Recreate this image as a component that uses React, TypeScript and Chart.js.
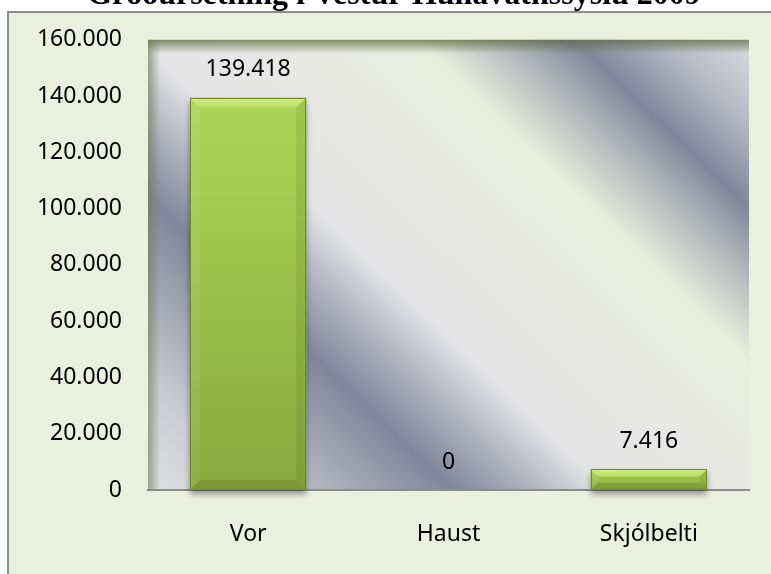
import { useEffect, useRef } from 'react';
import { Chart, registerables } from 'chart.js';

Chart.register(...registerables);

const TITLE = 'Gróðursetning í Vestur-Húnavatnssýslu 2009';
const categories = ['Vor', 'Haust', 'Skjólbelti'];
const values = [139418, 0, 7416];
const yMin = 0;
const yMax = 160000;
const yStep = 20000;

const FONT = '"Noto Sans", "Open Sans", sans-serif';

const fmt = (n: number) => String(Math.round(n)).replace(/\B(?=(\d{3})+(?!\d))/g, '.');

const framePlugin = {
  id: 'frame',
  beforeDraw(chart: any) {
    const ctx = chart.ctx as CanvasRenderingContext2D;
    const W = chart.width;
    const H = chart.height;
    ctx.save();
    ctx.fillStyle = '#ffffff';
    ctx.fillRect(0, 0, W, H);
    ctx.fillStyle = '#ebefde';
    ctx.fillRect(7, 11, W, H);
    ctx.fillStyle = '#8c8c8c';
    ctx.fillRect(7, 11, W - 7, 2);
    ctx.fillRect(7, 11, 2, H - 11);

    const { left, top, right, bottom } = chart.chartArea;
    const L = 740;
    const g = ctx.createLinearGradient(left, bottom, left + 0.69 * L, bottom - 0.72 * L);
    const stops: [number, string][] = [
      [0, '#dfe0e2'],
      [0.108, '#c9cbd1'],
      [0.203, '#a2a6b3'],
      [0.286, '#80869a'],
      [0.354, '#abaebb'],
      [0.432, '#e4e4e6'],
      [0.568, '#e8e9e3'],
      [0.69, '#e9eedc'],
      [0.77, '#b5b9bd'],
      [0.84, '#80869a'],
      [0.925, '#b8bbc5'],
      [1, '#d8d9de'],
    ];
    stops.forEach(([o, c]) => g.addColorStop(o, c));
    ctx.fillStyle = g;
    ctx.fillRect(left, top, right - left, bottom - top);

    // inner shadows
    const gt = ctx.createLinearGradient(0, top, 0, top + 14);
    gt.addColorStop(0, 'rgba(95,105,65,0.75)');
    gt.addColorStop(1, 'rgba(95,105,65,0)');
    ctx.fillStyle = gt;
    ctx.fillRect(left, top, right - left, 14);
    const gl = ctx.createLinearGradient(left, 0, left + 12, 0);
    gl.addColorStop(0, 'rgba(110,120,80,0.6)');
    gl.addColorStop(1, 'rgba(110,120,80,0)');
    ctx.fillStyle = gl;
    ctx.fillRect(left, top, 12, bottom - top);

    // title (mostly cut off at the top)
    ctx.fillStyle = '#000';
    ctx.font = 'bold 32px "Liberation Serif", "Times New Roman", serif';
    ctx.textAlign = 'center';
    ctx.textBaseline = 'alphabetic';
    ctx.fillText(TITLE, 394, 4);
    ctx.restore();
  },
};

const barPlugin = {
  id: 'barStyle',
  beforeDatasetsDraw(chart: any) {
    const ctx = chart.ctx as CanvasRenderingContext2D;
    ctx.save();
    ctx.shadowColor = 'rgba(0,0,0,0.4)';
    ctx.shadowBlur = 6;
    ctx.shadowOffsetX = 0;
    ctx.shadowOffsetY = 4;
  },
  afterDatasetsDraw(chart: any) {
    const ctx = chart.ctx as CanvasRenderingContext2D;
    ctx.restore();
    const meta = chart.getDatasetMeta(0);
    const ds = chart.data.datasets[0];
    meta.data.forEach((el: any, i: number) => {
      const { x, y, base, width } = el.getProps(['x', 'y', 'base', 'width'], true);
      const x0 = x - width / 2;
      const x1 = x + width / 2;
      const yt = Math.min(y, base);
      const yb = Math.max(y, base);
      const h = yb - yt;
      ctx.save();
      if (h > 0.5) {
        const g = ctx.createLinearGradient(0, yt, 0, yb);
        g.addColorStop(0, '#acd656');
        g.addColorStop(1, '#88a93f');
        ctx.fillStyle = g;
        ctx.fillRect(x0, yt, width, h);
        const b = Math.min(10, h * 0.35);
        // top bevel
        const gb = ctx.createLinearGradient(0, yt, 0, yt + b);
        gb.addColorStop(0, '#d2f08a');
        gb.addColorStop(1, '#b6dd62');
        ctx.fillStyle = gb;
        ctx.beginPath();
        ctx.moveTo(x0, yt);
        ctx.lineTo(x1, yt);
        ctx.lineTo(x1 - b, yt + b);
        ctx.lineTo(x0 + b, yt + b);
        ctx.closePath();
        ctx.fill();
        // left bevel
        ctx.fillStyle = 'rgba(255,255,255,0.07)';
        ctx.beginPath();
        ctx.moveTo(x0, yt);
        ctx.lineTo(x0 + b, yt + b);
        ctx.lineTo(x0 + b, yb - b);
        ctx.lineTo(x0, yb);
        ctx.closePath();
        ctx.fill();
        // right bevel
        ctx.fillStyle = 'rgba(40,60,10,0.1)';
        ctx.beginPath();
        ctx.moveTo(x1, yt);
        ctx.lineTo(x1 - b, yt + b);
        ctx.lineTo(x1 - b, yb - b);
        ctx.lineTo(x1, yb);
        ctx.closePath();
        ctx.fill();
        // bottom bevel
        ctx.fillStyle = 'rgba(50,70,15,0.16)';
        ctx.beginPath();
        ctx.moveTo(x0, yb);
        ctx.lineTo(x1, yb);
        ctx.lineTo(x1 - b, yb - b);
        ctx.lineTo(x0 + b, yb - b);
        ctx.closePath();
        ctx.fill();
        ctx.strokeStyle = '#6d8a2c';
        ctx.lineWidth = 1;
        ctx.strokeRect(Math.round(x0) + 0.5, Math.round(yt) + 0.5, Math.round(width) - 1, Math.round(h) - 1);
      }
      // value label
      ctx.fillStyle = '#000';
      ctx.font = `23px ${FONT}`;
      ctx.textAlign = 'center';
      ctx.textBaseline = 'middle';
      ctx.fillText(fmt(ds.data[i] as number), x, yt - 28);
      ctx.restore();
    });
  },
};

export default function App() {
  const ref = useRef<HTMLCanvasElement | null>(null);
  useEffect(() => {
    if (!ref.current) return;
    const chart = new Chart(ref.current, {
      type: 'bar',
      data: {
        labels: categories,
        datasets: [
          {
            data: values,
            backgroundColor: '#9cc24c',
            borderWidth: 0,
            categoryPercentage: 1,
            barPercentage: 0.58,
            clip: false as any,
          },
        ],
      },
      options: {
        animation: false,
        responsive: false,
        devicePixelRatio: 1,
        layout: { padding: { left: 0, top: 39, right: 22, bottom: 0 } },
        plugins: {
          legend: { display: false },
          title: { display: false },
          tooltip: { enabled: false },
        },
        scales: {
          x: {
            grid: { display: false, drawTicks: false },
            border: { display: true, color: '#8c8c8c', width: 2 },
            ticks: { color: '#000', font: { family: FONT, size: 23 }, padding: 31, maxRotation: 0 },
            afterFit: (s: any) => {
              s.height = 84;
            },
          },
          y: {
            min: yMin,
            max: yMax,
            grid: { display: false, drawTicks: false },
            border: { display: false },
            ticks: {
              stepSize: yStep,
              color: '#000',
              font: { family: FONT, size: 23 },
              padding: 26,
              callback: (v: any) => fmt(Number(v)),
            },
            afterFit: (s: any) => {
              s.width = 148;
            },
          },
        },
      },
      plugins: [framePlugin, barPlugin],
    });
    return () => chart.destroy();
  }, []);
  return (
    <div style={{ position: 'absolute', left: 0, top: 0, width: 771, height: 574, overflow: 'hidden' }}>
      <canvas ref={ref} width={771} height={574} style={{ display: 'block', width: 771, height: 574 }} />
    </div>
  );
}
